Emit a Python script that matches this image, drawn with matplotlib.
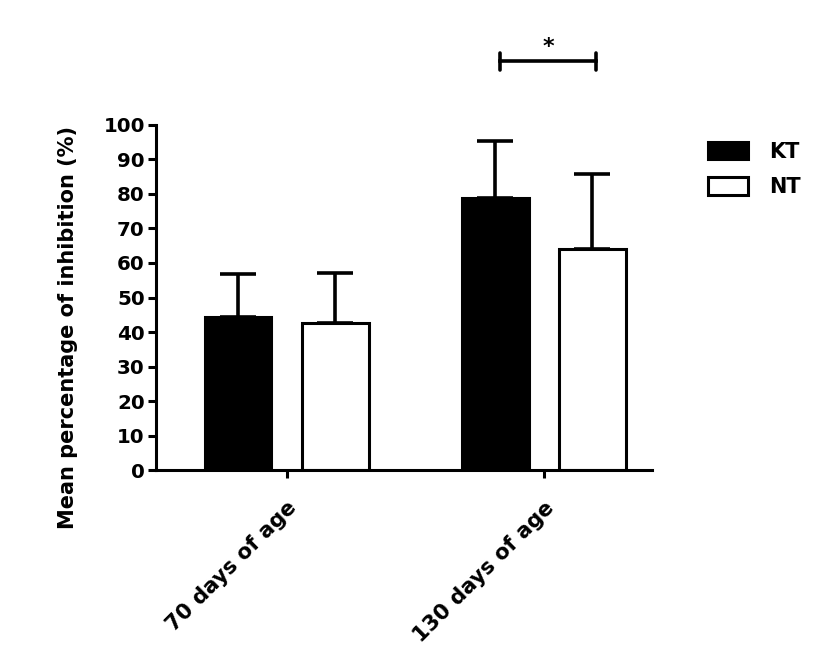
import numpy as np
import matplotlib
matplotlib.use("Agg")
import matplotlib.pyplot as plt

# Daten
groups = ["70 days of age", "130 days of age"]
kt_mean = [44.3, 78.8]
kt_err = [12.6, 16.6]
nt_mean = [42.5, 64.2]
nt_err = [14.7, 21.6]

plt.rcParams["font.family"] = ["DejaVu Sans"]
plt.rcParams["font.weight"] = "bold"

fig = plt.figure(figsize=(8.27, 6.54), dpi=100)
ax = fig.add_axes([0.1886, 0.2813, 0.5995, 0.5276])

x = np.arange(len(groups))
w = 0.26
off = 0.189
lw = 2.2

ax.bar(x - off, kt_mean, w, color="black", edgecolor="black", linewidth=lw, label="KT")
ax.bar(x + off, nt_mean, w, color="white", edgecolor="black", linewidth=lw, label="NT")
ax.errorbar(x - off, kt_mean, yerr=[np.zeros(2), kt_err], fmt="none", ecolor="black",
            elinewidth=lw + 0.4, capsize=13, capthick=lw + 0.4)
ax.errorbar(x + off, nt_mean, yerr=[np.zeros(2), nt_err], fmt="none", ecolor="black",
            elinewidth=lw + 0.4, capsize=13, capthick=lw + 0.4)

# Signifikanzbalken
y_sig = 118.5
x_sig = [0.831, 1.204]
ax.plot(x_sig, [y_sig, y_sig], color="black", lw=lw + 0.4, clip_on=False)
for xs in x_sig:
    ax.plot([xs, xs], [y_sig - 2.5, y_sig + 2.5], color="black", lw=lw + 0.4, clip_on=False,
            solid_capstyle="round")
ax.text(sum(x_sig) / 2, y_sig + 1.2, "*", ha="center", va="bottom", fontsize=16, fontweight="bold")

ax.set_xlim(-0.508, 1.42)
ax.set_ylim(0, 100)
ax.set_yticks(np.arange(0, 101, 10))
ax.set_xticks(x)
ax.set_xticklabels(groups, rotation=45, ha="right", rotation_mode="anchor", fontsize=15.3, fontweight="bold")
for lab in ax.get_yticklabels():
    lab.set_fontsize(14.3)
    lab.set_fontweight("bold")
ax.set_ylabel("Mean percentage of inhibition (%)", fontsize=15, fontweight="bold")
ax.yaxis.set_label_coords(-0.157, 0.414)

for s in ["top", "right"]:
    ax.spines[s].set_visible(False)
for s in ["left", "bottom"]:
    ax.spines[s].set_linewidth(lw)
ax.tick_params(axis="y", width=lw, length=6, pad=2)
ax.tick_params(axis="x", width=lw, length=6, pad=14)

fig.legend(loc="upper left", bbox_to_anchor=(0.834, 0.812), frameon=False, fontsize=15,
           handlelength=1.9, handleheight=0.9, handletextpad=1.0, labelspacing=0.75)

fig.savefig("out.png", dpi=100)
